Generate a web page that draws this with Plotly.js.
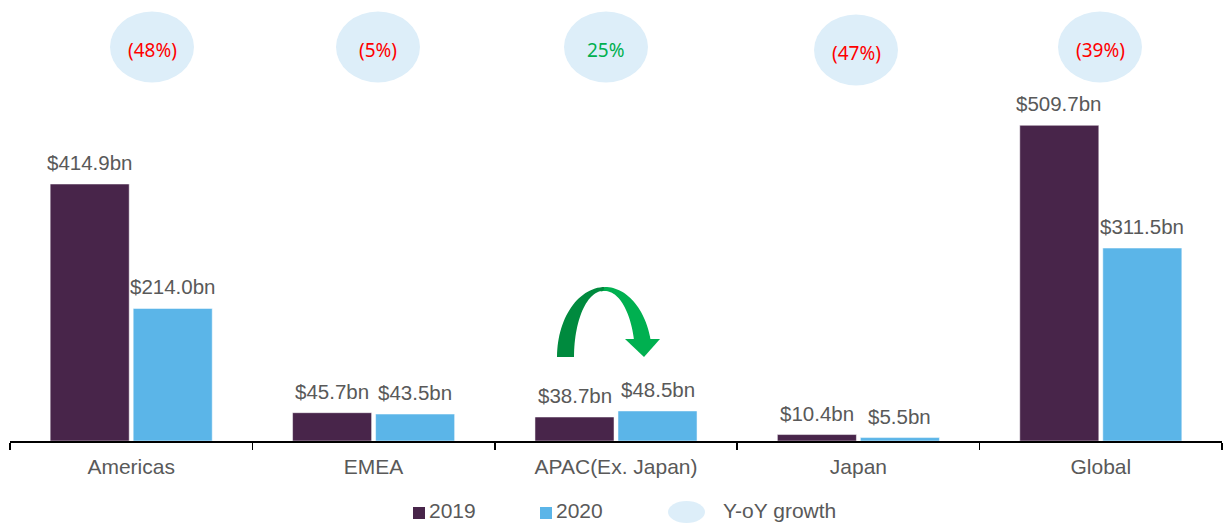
<!DOCTYPE html>
<html>
<head>
<meta charset="utf-8">
<script src="https://cdn.plot.ly/plotly-3.0.1.min.js"></script>
<style>
  html, body { margin: 0; padding: 0; background: #ffffff; }
  #chart { width: 1223px; height: 523px; }
</style>
</head>
<body>
<div id="chart"></div>
<script>
// ---- data ----
const categories = ['Americas', 'EMEA', 'APAC(Ex. Japan)', 'Japan', 'Global'];
const values2019 = [414.9, 45.7, 38.7, 10.4, 509.7];
const values2020 = [214.0, 43.5, 48.5, 5.5, 311.5];
const growthLabels = ['(48%)', '(5%)', '25%', '(47%)', '(39%)'];

// ---- layout constants (decoration) ----
const W = 1223, H = 523;
const M = { l: 10, r: 1, t: 0, b: 82 };
const plotW = W - M.l - M.r, plotH = H - M.t - M.b;
const px2x = p => (p - M.l) / plotW;
const py2y = p => (M.t + plotH - p) / plotH;
const bubbleCx = [152, 378, 606, 856, 1100];
const bubbleCy = [47, 47, 47, 50, 47];
const bubbleRx = 42, bubbleRy = 35.5;

const c2019 = '#48254a', c2020 = '#5bb5e8';
const bubbleColor = '#ddeef9';
const labelColor = '#595959';
const FONT = 'Liberation Sans, Arial, sans-serif';

const fmt = v => '$' + v.toFixed(1) + 'bn';

const traces = [
  { type: 'bar', name: '2019', x: categories, y: values2019,
    marker: { color: c2019, line: { color: '#ffffff', width: 0.5 } }, hoverinfo: 'x+y' },
  { type: 'bar', name: '2020', x: categories, y: values2020,
    marker: { color: c2020, line: { color: '#ffffff', width: 0.5 } }, hoverinfo: 'x+y' }
];

const shapes = [];
const annotations = [];

// value labels over bars
const barOffset = 41.5;
categories.forEach((c, i) => {
  annotations.push({ x: c, y: values2019[i], xref: 'x', yref: 'y', text: fmt(values2019[i]),
    showarrow: false, xshift: -barOffset, yanchor: 'bottom', yshift: 8,
    font: { family: FONT, size: 20.5, color: labelColor } });
  annotations.push({ x: c, y: values2020[i], xref: 'x', yref: 'y', text: fmt(values2020[i]),
    showarrow: false, xshift: barOffset, yanchor: 'bottom', yshift: 8,
    font: { family: FONT, size: 20.5, color: labelColor } });
});

// growth bubbles
growthLabels.forEach((g, i) => {
  const cx = bubbleCx[i], cy = bubbleCy[i];
  shapes.push({ type: 'circle', xref: 'paper', yref: 'paper', layer: 'below',
    x0: px2x(cx - bubbleRx), x1: px2x(cx + bubbleRx),
    y0: py2y(cy + bubbleRy), y1: py2y(cy - bubbleRy),
    fillcolor: bubbleColor, line: { width: 0 } });
  const neg = g.indexOf('(') === 0;
  annotations.push({ x: px2x(cx), y: py2y(cy + 3), xref: 'paper', yref: 'paper',
    text: g, showarrow: false, xanchor: 'center', yanchor: 'middle',
    font: { family: 'Noto Sans, Open Sans, sans-serif', size: 19, color: neg ? '#ff0000' : '#00b050' } });
});

// curved green arrow (decoration) between APAC bars
function arcPts(cx, cy, rx, ry, t0, t1, n) {
  const pts = [];
  for (let k = 0; k <= n; k++) {
    const t = t0 + (t1 - t0) * k / n;
    pts.push([cx + rx * Math.cos(t), cy - ry * Math.sin(t)]);
  }
  return pts;
}
function pathFrom(pts) {
  return pts.map((p, k) => (k ? 'L' : 'M') + px2x(p[0]).toFixed(5) + ',' + py2y(p[1]).toFixed(5)).join(' ') + ' Z';
}
const acx = 605, acy = 357;
const leftBand = arcPts(acx, acy, 48, 70, Math.PI, Math.PI / 2, 30)
  .concat(arcPts(acx - 2, acy, 29, 66, Math.PI / 2, Math.PI, 30));
const tEnd = Math.asin(18 / 70);
const rightBand = arcPts(acx, acy, 47, 70, Math.PI / 2, tEnd, 30)
  .concat(arcPts(acx, acy, 30, 66, Math.asin(18 / 66), Math.PI / 2 + 0.15, 30));
shapes.push({ type: 'path', xref: 'paper', yref: 'paper', path: pathFrom(rightBand),
  fillcolor: '#00b050', line: { width: 0 } });
shapes.push({ type: 'path', xref: 'paper', yref: 'paper', path: pathFrom(leftBand),
  fillcolor: '#008a3e', line: { width: 0 } });
shapes.push({ type: 'path', xref: 'paper', yref: 'paper',
  path: pathFrom([[625, 339], [660, 339], [644, 357]]),
  fillcolor: '#00b050', line: { width: 0 } });

// custom legend
const legY = 510;
shapes.push({ type: 'rect', xref: 'paper', yref: 'paper', x0: px2x(413), x1: px2x(425),
  y0: py2y(519), y1: py2y(507), fillcolor: c2019, line: { width: 0 } });
shapes.push({ type: 'rect', xref: 'paper', yref: 'paper', x0: px2x(540), x1: px2x(552),
  y0: py2y(519), y1: py2y(507), fillcolor: c2020, line: { width: 0 } });
shapes.push({ type: 'circle', xref: 'paper', yref: 'paper', x0: px2x(668), x1: px2x(705),
  y0: py2y(523), y1: py2y(501), fillcolor: bubbleColor, line: { width: 0 } });
[['2019', 427], ['2020', 554], ['Y-oY growth', 721]].forEach(([t, x]) => {
  annotations.push({ x: px2x(x), y: py2y(legY), xref: 'paper', yref: 'paper', text: t,
    showarrow: false, xanchor: 'left', yanchor: 'middle',
    font: { family: FONT, size: 21, color: labelColor } });
});

const layout = {
  width: W, height: H,
  margin: M,
  paper_bgcolor: '#ffffff', plot_bgcolor: '#ffffff',
  showlegend: false,
  barmode: 'group',
  bargap: 0.315,
  bargroupgap: 0.048,
  xaxis: {
    type: 'category',
    showline: true, linecolor: '#000000', linewidth: 1.5,
    ticks: 'outside', tickson: 'boundaries', ticklen: 7, tickwidth: 1.5, tickcolor: '#000000',
    ticklabelstandoff: 6,
    showgrid: false, zeroline: false,
    tickfont: { family: FONT, size: 21, color: labelColor },
    fixedrange: true
  },
  yaxis: {
    range: [0, 712],
    visible: false, showgrid: false, zeroline: false, fixedrange: true
  },
  shapes: shapes,
  annotations: annotations
};

Plotly.newPlot('chart', traces, layout, { displayModeBar: false, staticPlot: true });
</script>
</body>
</html>
